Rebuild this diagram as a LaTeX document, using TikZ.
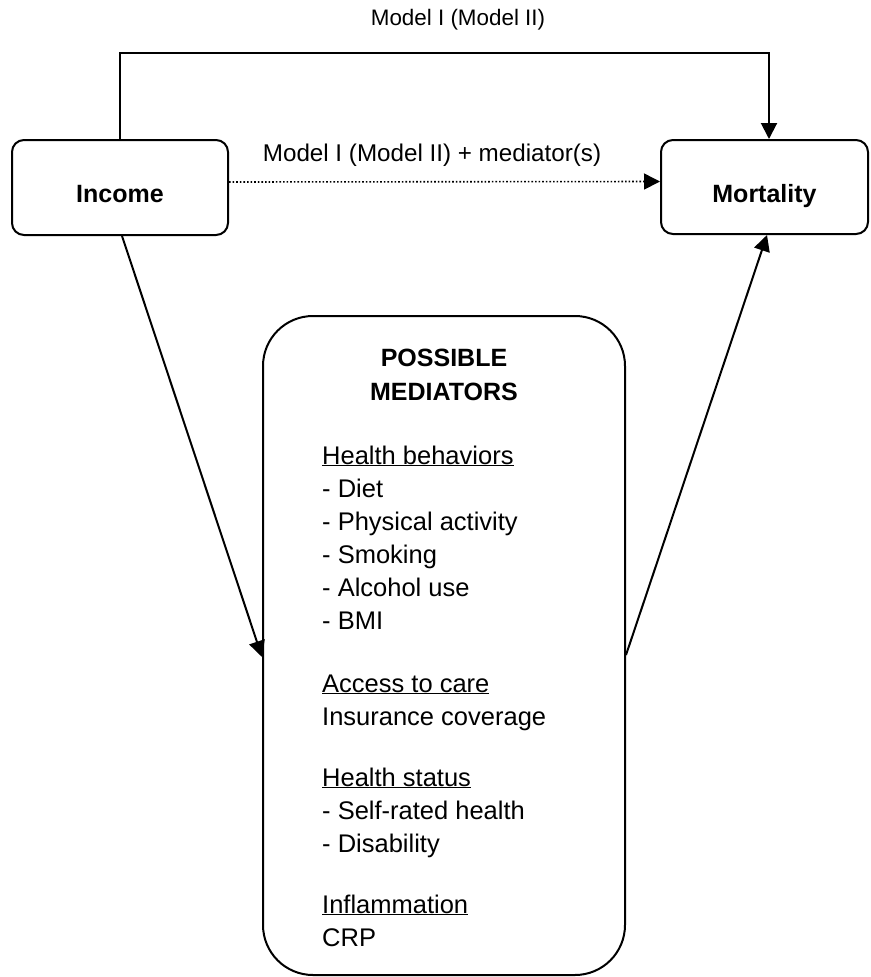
\documentclass[tikz,border=0pt]{standalone}
\usepackage{fontspec}
\setmainfont{Liberation Sans}
\usetikzlibrary{arrows.meta}
\begin{document}
\begin{tikzpicture}[x=1pt,y=-1pt,
  box/.style={draw,line width=2pt,rounded corners=12pt,inner sep=0pt},
  endbox/.style={box,text height=30pt,text depth=0pt,font=\fontsize{25}{28}\selectfont\bfseries},
  arr/.style={line width=2pt,-{Triangle[length=16pt,width=16pt]}},
  lbl/.style={font=\fontsize{22.4}{26}\selectfont,inner sep=0pt},
  item/.style={font=\fontsize{25.5}{30}\selectfont,anchor=base west,inner sep=0pt},
  ttl/.style={font=\fontsize{25}{30}\selectfont\bfseries,inner sep=0pt}]
\useasboundingbox (0,0) rectangle (870,977);
\node[endbox,minimum width=216pt,minimum height=95pt] (income) at (120,187.5) {Income};
\node[endbox,minimum width=207pt,minimum height=94pt] (mortality) at (764.5,187) {Mortality};
\node[box,rounded corners=50pt,minimum width=362pt,minimum height=659pt] (med) at (444,645.5) {};
\node[lbl] (m1) at (458,20) {Model I (Model II)};
\node[lbl,font=\fontsize{24.2}{28}\selectfont] (m2) at (432,155) {Model I (Model II) + mediator(s)};
\node[ttl] (t1) at (444,358) {POSSIBLE};
\node[ttl] (t2) at (444,392) {MEDIATORS};
\node[item] (a1) at (322,464) {\underline{Health behaviors}};
\node[item] (a2) at (322,497) {- Diet};
\node[item] (a3) at (322,530) {- Physical activity};
\node[item] (a4) at (322,563) {- Smoking};
\node[item] (a5) at (322,596) {- Alcohol use};
\node[item] (a6) at (322,629) {- BMI};
\node[item] (b1) at (322,692) {\underline{Access to care}};
\node[item] (b2) at (322,725) {Insurance coverage};
\node[item] (c1) at (322,786) {\underline{Health status}};
\node[item] (c2) at (322,819) {- Self-rated health};
\node[item] (c3) at (322,852) {- Disability};
\node[item] (d1) at (322,913) {\underline{Inflammation}};
\node[item] (d2) at (322,946) {CRP};
\coordinate (top) at (0,53);
\draw[arr] (income.north) -- (income.north |- top) -| ([xshift=4.5pt]mortality.north);
\draw[line width=1.6pt,dotted,-{Triangle[length=16pt,width=16pt]}] ([yshift=5.5pt]income.east) -- ([yshift=5.5pt]mortality.west);
\coordinate (hin) at (0,657);
\coordinate (hout) at (0,655);
\draw[arr] ([xshift=2pt]income.south) -- (med.west |- hin);
\draw[arr] (med.east |- hout) -- ([xshift=2.5pt]mortality.south);
\end{tikzpicture}
\end{document}
